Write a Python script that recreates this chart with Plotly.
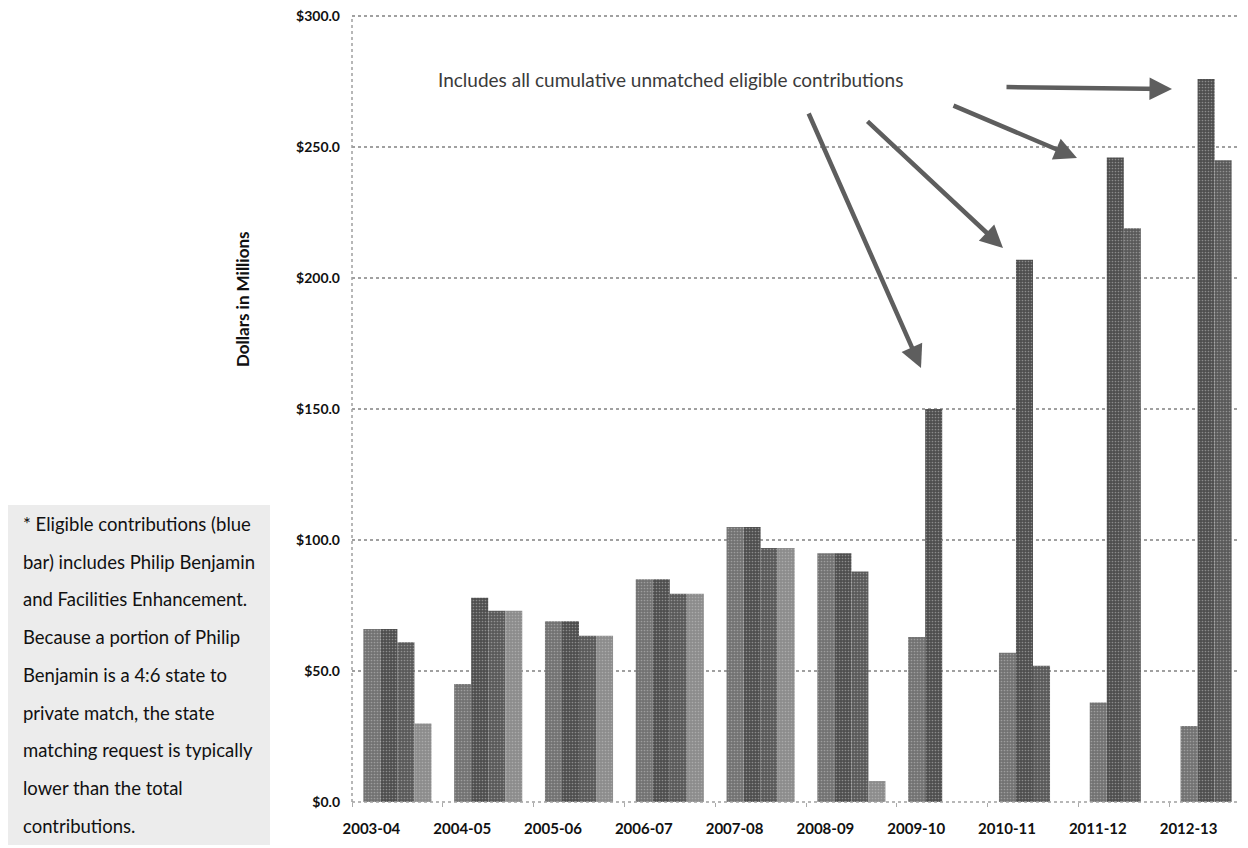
import plotly.graph_objects as go

years = ["2003-04", "2004-05", "2005-06", "2006-07", "2007-08",
         "2008-09", "2009-10", "2010-11", "2011-12", "2012-13"]
series_a = [66, 45, 69, 85, 105, 95, 63, 57, 38, 29]
series_b = [66, 78, 69, 85, 105, 95, 150, 207, 246, 276]
series_c = [61, 73, 63.5, 79.5, 97, 88, 0, 52, 219, 245]
series_d = [30, 73, 63.5, 79.5, 97, 8, 0, 0, 0, 0]
series_names = ["Series A", "Series B", "Series C", "Series D"]
y_ticks = [0, 50, 100, 150, 200, 250, 300]
y_ticktext = ["$%.1f" % v for v in y_ticks]

note_lines = [
    "* Eligible contributions (blue",
    "bar) includes Philip Benjamin",
    "and Facilities Enhancement.",
    "Because a portion of Philip",
    "Benjamin is a 4:6 state to",
    "private match, the state",
    "matching request is typically",
    "lower than the total",
    "contributions.",
]
callout = "Includes all cumulative unmatched eligible contributions"

# page body has an 8px margin; figure sized to fit the 1248x848 window
OFF = 8
W, H = 1240, 840
PX_PER_UNIT = 2.62
Y_MAX = 300.8
L, R, B = 344, 0, 46
T = round(H - B - Y_MAX * PX_PER_UNIT)
PW, PH = W - L - R, H - T - B
CAT_W = 90.8


def px(sx):
    return (sx - OFF - L) / PW


def py(sy):
    return 1 - (sy - OFF - T) / PH


colors = ["#727272", "#4e4e4e", "#595959", "#8c8c8c"]
fig = go.Figure()
for name, vals, col in zip(series_names, [series_a, series_b, series_c, series_d], colors):
    fig.add_trace(go.Bar(
        x=years, y=vals, name=name,
        marker=dict(color=col, line=dict(width=0),
                    pattern=dict(shape=".", fgcolor="#c8c8c8", size=3, solidity=0.25)),
    ))

font_main = "Lato, 'Open Sans', sans-serif"
fig.update_layout(
    width=W, height=H,
    margin=dict(l=L, r=R, t=T, b=B, pad=0),
    paper_bgcolor="white", plot_bgcolor="white",
    barmode="group", bargap=0.25, bargroupgap=0,
    showlegend=False,
    font=dict(family=font_main, color="#111"),
    xaxis=dict(
        type="category", range=[-0.5, -0.5 + PW / CAT_W],
        showgrid=False, showline=False, zeroline=False,
        ticks="outside", tickson="boundaries", ticklen=4, tickcolor="#aaa",
        tickfont=dict(size=15, family=font_main, weight="bold", color="#111"),
        ticklabelshift=-26, ticklabelstandoff=16,
    ),
    yaxis=dict(
        range=[0, Y_MAX], tickvals=y_ticks, ticktext=y_ticktext,
        showgrid=True, gridcolor="#a0a0a0", griddash="dot", gridwidth=1.5,
        zeroline=False, showline=False, ticks="",
        tickfont=dict(size=14, family=font_main, weight="bold", color="#111"),
        ticklabelstandoff=11, ticklabeloverflow="allow",
    ),
)

# dotted axis lines
fig.add_shape(type="line", xref="paper", yref="paper", x0=0, x1=0, y0=0, y1=300 / Y_MAX,
              line=dict(color="#a0a0a0", width=1.5, dash="dot"))
fig.add_shape(type="line", xref="paper", yref="paper", x0=0, x1=1, y0=0, y1=0,
              line=dict(color="#a0a0a0", width=1.5, dash="dot"))

# axis title
fig.add_annotation(text="<b>Dollars in Millions</b>", xref="paper", yref="paper",
                   x=px(243), y=py(300), xanchor="center", yanchor="middle",
                   textangle=-90, showarrow=False,
                   font=dict(size=17, family=font_main, color="#111"))

# note box
fig.add_shape(type="rect", xref="paper", yref="paper",
              x0=px(OFF), x1=px(270), y0=py(845), y1=py(505),
              fillcolor="#ececec", line=dict(width=0), layer="below")
for i, line in enumerate(note_lines):
    fig.add_annotation(text=line, xref="paper", yref="paper",
                       x=px(21), y=py(524 + i * 37.7), xanchor="left", yanchor="middle",
                       showarrow=False, font=dict(size=18.5, family=font_main, color="#111"))

# callout text
fig.add_annotation(text=callout, xref="paper", yref="paper",
                   x=px(670), y=py(80), xanchor="center", yanchor="middle",
                   showarrow=False, font=dict(size=19, family=font_main, color="#3a3a3a"))

arrows = [((808, 112), (921, 368)),
          ((866, 120), (1003, 248)),
          ((952, 105), (1077, 158)),
          ((1005, 87), (1172, 89))]
for (tx, ty), (hx, hy) in arrows:
    fig.add_annotation(text="", xref="paper", yref="paper",
                       x=px(hx), y=py(hy), axref="pixel", ayref="pixel",
                       ax=tx - hx, ay=ty - hy, showarrow=True,
                       arrowhead=2, arrowsize=1, arrowwidth=4.5, arrowcolor="#5e5e5e")

fig.write_html("out.html")
